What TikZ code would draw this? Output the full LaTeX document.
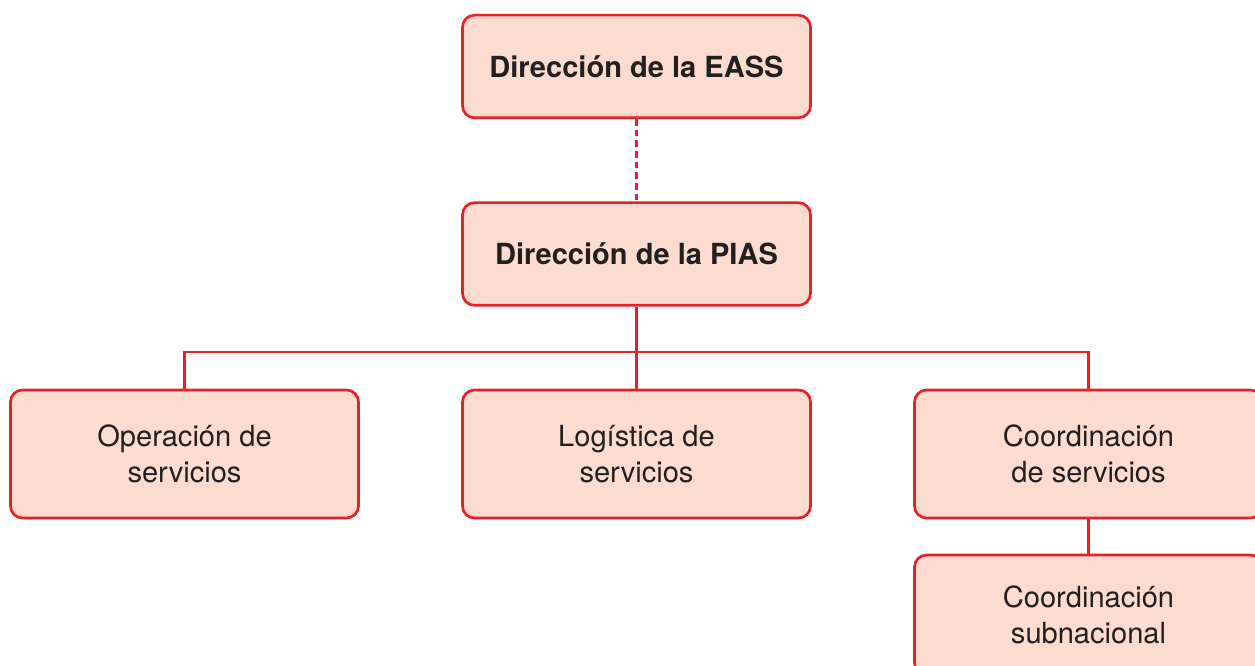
\documentclass[tikz,border=0pt]{standalone}
\usepackage{fontspec}
\setmainfont{TeX Gyre Heros}
\usepackage{tikz}
\usetikzlibrary{positioning}
\definecolor{EassRed}{HTML}{E8202A}
\definecolor{EassFill}{HTML}{FCDCCE}
\definecolor{EassText}{HTML}{231F20}

\begin{document}
\begin{tikzpicture}[
  x=0.75pt, y=-0.75pt,
  unit/.style={rectangle, rounded corners=9pt, draw=EassRed, line width=2pt, fill=EassFill,
    minimum width=261pt, minimum height=96pt, align=center, text=EassText,
    font=\fontsize{21.8}{27}\selectfont},
  headunit/.style={unit, minimum height=77pt, font=\fontsize{21.8}{27}\selectfont\bfseries},
  link/.style={EassRed, line width=1.7pt},
  dashlink/.style={link, dash pattern=on 5pt off 3pt}
]
\useasboundingbox (0,0) rectangle (1255,666);

% Direction
\node[headunit] (eass) at (636.5,66.5) {Dirección de la EASS};
\node[headunit] (pias) at (636.5,254) {Dirección de la PIAS};

% Areas
\node[unit] (oper) at (184.5,454) {Operación de\\servicios};
\node[unit] (logi) at (636.5,454) {Logística de\\servicios};
\node[unit] (coord) at (1088.5,454) {Coordinación\\de servicios};
\node[unit, minimum height=90pt] (subn) at (1088.5,615) {Coordinación\\subnacional};

% Connectors
\coordinate (bus) at (636.5,352);
\draw[dashlink] (eass) -- (pias);
\draw[link] (pias) -- (logi);
\draw[link] (oper.north) |- (bus);
\draw[link] (coord.north) |- (bus);
\draw[link] (coord) -- (subn);

\end{tikzpicture}
\end{document}
